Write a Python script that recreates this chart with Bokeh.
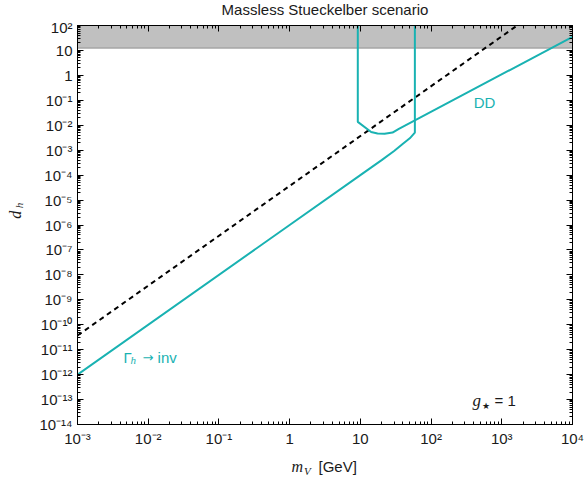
import numpy as np
from bokeh.plotting import figure
from bokeh.layouts import row, column
from bokeh.models import (Range1d, LogAxis, FixedTicker, CustomJSTickFormatter,
                          Label, BoxAnnotation, Span)
from bokeh.embed import file_html
from bokeh.resources import INLINE

# ---------------- data ----------------
title_text = "Massless Stueckelber scenario"
x_tick_exponents = list(range(-3, 5))
y_tick_exponents = list(range(-14, 3))
x_limits = [1e-3, 1e4]
y_limits = [1e-14, 1e2]

# perturbativity band (grey)
band_bottom = 12.6
band_top = 100.0

# dashed black line
dashed_m = [1e-3, 1.65e3]
dashed_d = [3.7e-11, 1e2]

# Gamma_h -> inv bound
inv_m = [1e-3, 1.0, 10.0, 20.0, 30.0, 40.0, 50.0, 59.0, 59.0]
inv_d = [1e-12, 1e-6, 1e-4, 4.0e-4, 9.3e-4, 1.8e-3, 3.0e-3, 5.1e-3, 1e2]

# direct detection bound
dd_m = [9.2, 9.2, 14.2, 17.5, 22.0, 28.5, 35.0, 1e4]
dd_d = [1e2, 1.37e-2, 5.4e-3, 4.7e-3, 4.6e-3, 5.1e-3, 7.2e-3, 35.0]

TEAL = "#19b2b2"
INK = "#1a1a1a"
SANS = "Liberation Sans"
SERIF = "Liberation Serif"

# ---------------- main figure ----------------
W, H = 585, 480
YLAB_W = 24
XLAB_H = 30
TITLE_H = 18
p = figure(width=W - YLAB_W, height=H - XLAB_H - TITLE_H,
           x_axis_type="log", y_axis_type="log",
           x_range=Range1d(*x_limits), y_range=Range1d(*y_limits),
           output_backend="svg", toolbar_location=None,
           min_border_left=53, min_border_right=13, min_border_top=7,
           min_border_bottom=26, background_fill_color="white",
           border_fill_color="white")
p.title.text = ""
p.title.visible = False
p.xgrid.visible = False
p.ygrid.visible = False
p.outline_line_color = "black"
p.outline_line_width = 1

def major(exps):
    return [10.0 ** e for e in exps]

def minor(exps):
    return [k * 10.0 ** e for e in exps[:-1] for k in range(2, 10)]

xt = FixedTicker(ticks=major(x_tick_exponents), minor_ticks=minor(x_tick_exponents))
yt = FixedTicker(ticks=major(y_tick_exponents), minor_ticks=minor(y_tick_exponents))

fmt_code = """
const e = Math.round(Math.log10(tick));
if (e == 0) return "1";
if (e == 1) return "10";
const sup = {"-":"\u207b","0":"\u2070","1":"\u00b9","2":"\u00b2","3":"\u00b3",
             "4":"\u2074","5":"\u2075","6":"\u2076","7":"\u2077","8":"\u2078","9":"\u2079"};
return "10" + String(e).split("").map(c => sup[c]).join("");
"""
blank_code = "return '';"

def style_axis(ax, ticker, labelled):
    ax.ticker = ticker
    ax.major_tick_in = 6
    ax.major_tick_out = 0
    ax.minor_tick_in = 3
    ax.minor_tick_out = 0
    ax.axis_line_color = "black"
    ax.major_tick_line_color = "black"
    ax.minor_tick_line_color = "black"
    if labelled:
        ax.formatter = CustomJSTickFormatter(code=fmt_code)
        ax.major_label_text_font = SANS
        ax.major_label_text_font_size = "15px"
        ax.major_label_text_color = INK
    else:
        ax.formatter = CustomJSTickFormatter(code=blank_code)
        ax.major_label_text_font_size = "0px"
        ax.major_label_standoff = 0

xa = p.xaxis[0]
ya = p.yaxis[0]
style_axis(xa, xt, True)
style_axis(ya, yt, True)
xa.major_label_standoff = 5
ya.major_label_standoff = 5

top_ax = LogAxis()
style_axis(top_ax, xt, False)
right_ax = LogAxis()
style_axis(right_ax, yt, False)
p.add_layout(top_ax, "above")
p.add_layout(right_ax, "right")

# grey band
p.add_layout(BoxAnnotation(bottom=band_bottom, top=band_top, fill_color="#c0c0c0",
                           fill_alpha=1.0, line_alpha=0.0, level="underlay"))
p.add_layout(Span(location=band_bottom, dimension="width", line_color="#a6a6a6",
                  line_width=1.5, level="underlay"))

# curves
p.line(dashed_m, dashed_d, line_color="black", line_width=2, line_dash="5 4")
p.line(inv_m, inv_d, line_color=TEAL, line_width=2)
p.line(dd_m, dd_d, line_color=TEAL, line_width=2)

def add_label(fig, text, x, y, **kw):
    opts = dict(text_align="left", text_baseline="middle")
    opts.update(kw)
    fig.add_layout(Label(x=x, y=y, text=text, **opts))

# DD label
add_label(p, "DD", 571.0, 0.085, text_font=SANS, text_font_size="15px",
          text_color=TEAL, text_align="center")

# Gamma_h -> inv label
gx, gy = 4.48e-3, 4.9e-12
add_label(p, "\u0393", gx, gy, text_font=SANS, text_font_size="15px", text_color=TEAL)
add_label(p, "h", gx, gy, text_font=SERIF, text_font_style="italic", text_font_size="11px",
          text_color=TEAL, x_offset=7, y_offset=-3)
add_label(p, "\u2192", gx, gy, text_font="DejaVu Sans", text_font_size="13px",
          text_color=TEAL, x_offset=19)
add_label(p, "inv", gx, gy, text_font=SANS, text_font_size="15px", text_color=TEAL,
          x_offset=34)

# g_star = 1 label
sx, sy = 386.0, 9.1e-14
add_label(p, "g", sx, sy, text_font=SERIF, text_font_style="italic", text_font_size="17px",
          text_color=INK)
add_label(p, "\u2605", sx, sy, text_font="DejaVu Sans", text_font_size="9px",
          text_color=INK, x_offset=9.5, y_offset=-5)
add_label(p, "= 1", sx, sy, text_font=SANS, text_font_size="15px", text_color=INK,
          x_offset=22)

# ---------------- title and axis-title strips ----------------
def strip(w, h):
    f = figure(width=w, height=h, x_range=Range1d(0, w), y_range=Range1d(0, h),
               output_backend="svg", toolbar_location=None, min_border=0,
               x_axis_location=None, y_axis_location=None,
               background_fill_color="white", border_fill_color="white")
    f.outline_line_color = None
    f.xgrid.visible = False
    f.ygrid.visible = False
    return f

top = strip(W, TITLE_H)
add_label(top, title_text, 324.5, 9, text_font=SANS, text_font_size="15px",
          text_color=INK, text_align="center")

ylab = strip(YLAB_W, H - XLAB_H - TITLE_H)
add_label(ylab, "d", 15, 227, text_font=SERIF, text_font_style="italic",
          text_font_size="16px", text_color=INK, angle=np.pi / 2, text_align="center")
add_label(ylab, "h", 18, 237, text_font=SERIF, text_font_style="italic",
          text_font_size="11px", text_color=INK, angle=np.pi / 2, text_align="center")

xlab = strip(W, XLAB_H)
add_label(xlab, "m", 291, 14, text_font=SERIF, text_font_style="italic",
          text_font_size="16px", text_color=INK)
add_label(xlab, "V", 303.5, 10, text_font=SERIF, text_font_style="italic",
          text_font_size="11px", text_color=INK)
add_label(xlab, "[GeV]", 318, 14, text_font=SANS, text_font_size="15px",
          text_color=INK)

layout = column(top, row(ylab, p), xlab)
open("out.html", "w").write(file_html(layout, INLINE))
